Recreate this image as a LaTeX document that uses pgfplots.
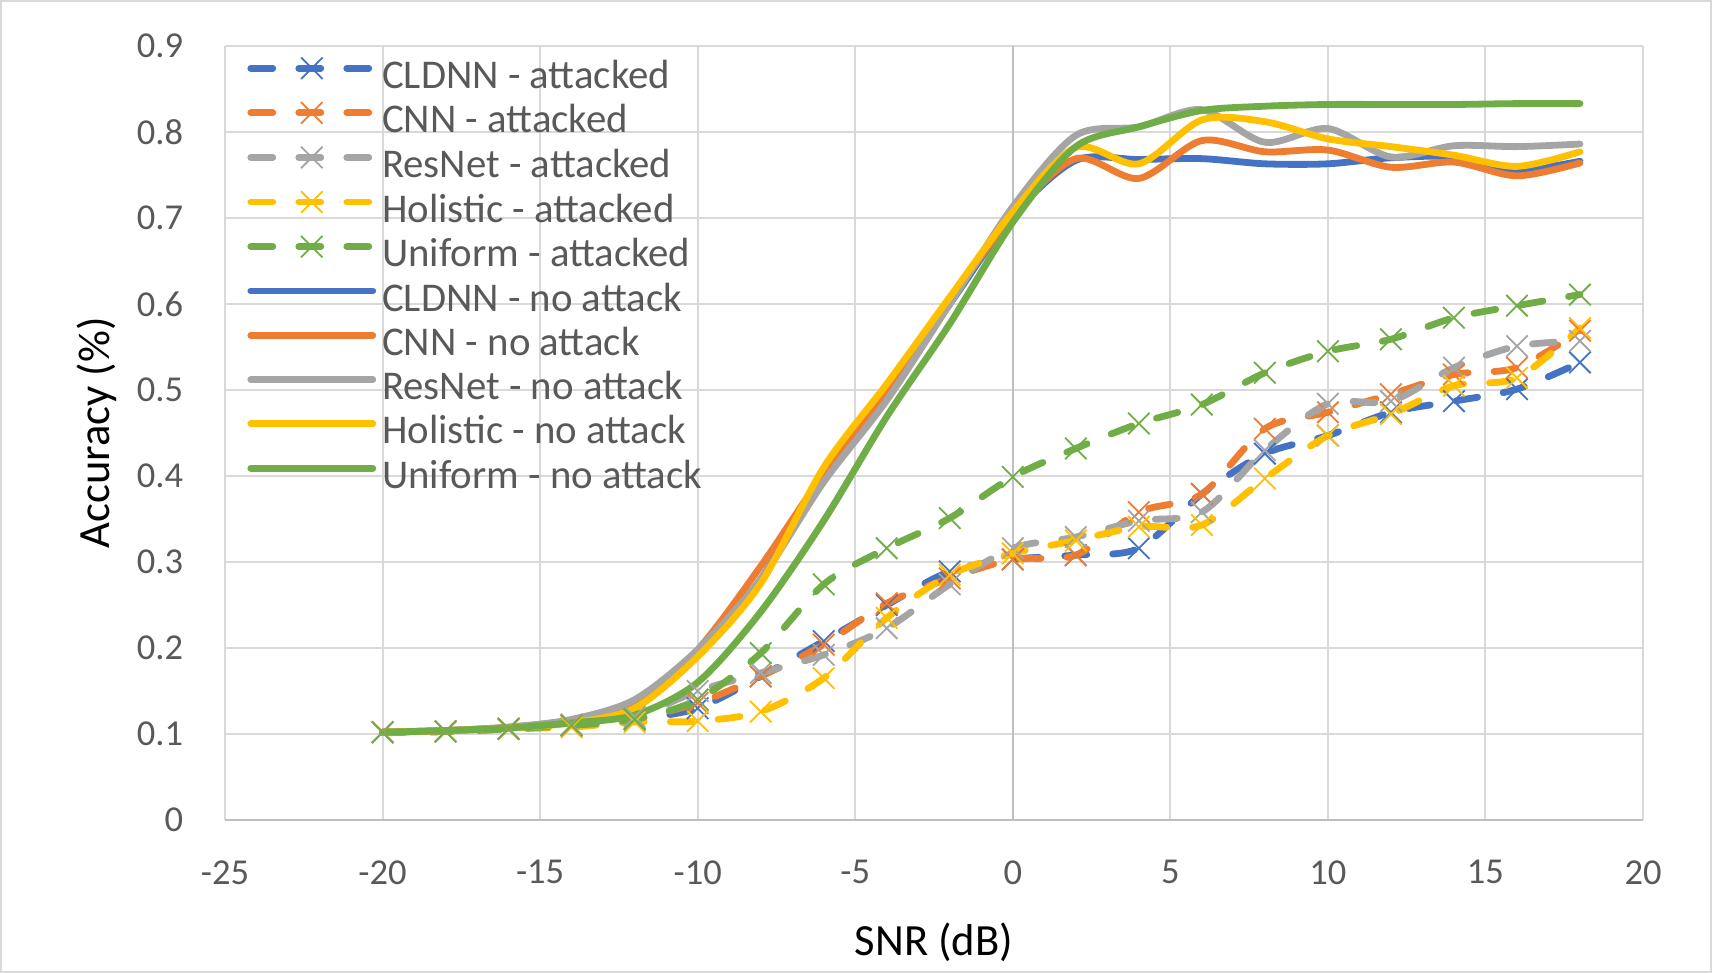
\documentclass[border=0pt]{standalone}
\usepackage{fontspec}
\setmainfont{Carlito}
\usepackage{pgfplots}
\usepackage{pgfplotstable}
\pgfplotsset{compat=1.18}
\definecolor{cblue}{HTML}{4472C4}
\definecolor{corange}{HTML}{ED7D31}
\definecolor{cgrey}{HTML}{A5A5A5}
\definecolor{cgold}{HTML}{FFC000}
\definecolor{cgreen}{HTML}{70AD47}
\definecolor{gridc}{HTML}{D9D9D9}
\definecolor{axc}{HTML}{BFBFBF}
\definecolor{txt}{HTML}{595959}
\newcommand\tickfont{\fontsize{18.25bp}{20bp}\selectfont}
\newcommand\legfont{\fontsize{20.4bp}{22bp}\selectfont}
\newcommand\titlefont{\fontsize{22.3bp}{24bp}\selectfont}

\pgfplotstableread{
x   cA    nA    rA    hA    uA    c     n     r     h     u
-20 0.102 0.102 0.102 0.102 0.102 0.102 0.102 0.102 0.102 0.102
-18 0.103 0.103 0.103 0.103 0.103 0.104 0.104 0.104 0.104 0.104
-16 0.106 0.106 0.106 0.106 0.106 0.107 0.108 0.108 0.107 0.107
-14 0.110 0.110 0.111 0.108 0.110 0.115 0.116 0.117 0.113 0.113
-12 0.117 0.118 0.120 0.114 0.117 0.130 0.135 0.140 0.130 0.122
-10 0.130 0.136 0.150 0.115 0.140 0.195 0.198 0.198 0.190 0.160
-8  0.167 0.167 0.171 0.126 0.194 0.280 0.295 0.280 0.275 0.242
-6  0.208 0.204 0.192 0.165 0.274 0.400 0.403 0.393 0.410 0.348
-4  0.250 0.252 0.223 0.235 0.316 0.498 0.498 0.488 0.507 0.469
-2  0.289 0.281 0.274 0.285 0.351 0.600 0.604 0.600 0.608 0.577
0   0.303 0.303 0.316 0.310 0.399 0.703 0.703 0.713 0.707 0.695
2   0.308 0.308 0.329 0.325 0.432 0.767 0.769 0.796 0.782 0.783
4   0.316 0.358 0.348 0.341 0.461 0.768 0.746 0.806 0.763 0.806
6   0.379 0.379 0.358 0.343 0.483 0.769 0.790 0.826 0.814 0.825
8   0.426 0.455 0.430 0.397 0.520 0.763 0.777 0.788 0.812 0.830
10  0.447 0.474 0.484 0.447 0.545 0.763 0.779 0.804 0.792 0.832
12  0.474 0.495 0.487 0.472 0.559 0.770 0.759 0.771 0.783 0.832
14  0.487 0.518 0.526 0.505 0.584 0.771 0.765 0.784 0.773 0.832
16  0.501 0.526 0.551 0.514 0.598 0.756 0.749 0.783 0.760 0.833
18  0.532 0.569 0.557 0.572 0.611 0.766 0.764 0.786 0.777 0.833
}\data

\pgfplotsset{
  att/.style={#1, line width=3.4bp, line cap=round, dash pattern=on 11bp off 13bp,
    smooth, tension=0.5, mark=x, mark size=7.6bp,
    mark options={solid, line width=0.9bp, line cap=butt}},
  noatt/.style={#1, line width=3.4bp, line cap=round, smooth, tension=0.5, no marks},
}

\begin{document}
\begin{tikzpicture}
\useasboundingbox (-112.5bp,-76.5bp) rectangle (743.5bp,410bp);
\draw[gridc, line width=1bp] (-112bp,-76bp) rectangle (743bp,409.5bp);
\begin{axis}[
  at={(0,0)}, anchor=south west, scale only axis,
  width=709bp, height=387bp,
  xmin=-25, xmax=20, ymin=0, ymax=0.9,
  xtick={-25,-20,-15,-10,-5,0,5,10,15,20},
  ytick={0,0.1,0.2,0.3,0.4,0.5,0.6,0.7,0.8,0.9},
  /pgf/number format/assume math mode=true,
  axis line style={draw=none},
  major tick length=0pt,
  tick style={draw=none},
  grid=major,
  major grid style={gridc, line width=1bp},
  extra x ticks={0}, extra x tick labels={},
  extra x tick style={major grid style={axc, line width=1.2bp}},
  extra y ticks={0}, extra y tick labels={},
  extra y tick style={major grid style={axc, line width=1.4bp}},
  xticklabel style={anchor=north, inner sep=0pt, font=\tickfont, text=txt},
  xticklabel shift=20bp,
  yticklabel style={anchor=east, inner sep=0pt, font=\tickfont, text=txt},
  yticklabel shift=20.7bp,
  legend image code/.code={
    \draw[mark repeat=2, mark phase=2, #1] plot coordinates {(0bp,5.85bp) (30.5bp,5.85bp) (61bp,5.85bp)};
  },
  legend cell align=left,
  legend style={
    draw=none, fill=none,
    at={(0,1)}, anchor=north west, xshift=11bp, yshift=-5.55bp,
    inner sep=0pt, row sep=0pt, column sep=3bp,
    font=\legfont, text=txt,
    nodes={inner sep=0pt, text height=15.3bp, text depth=6.85bp},
  },
]
\addplot[att=cblue]   table[x=x, y=cA] {\data};
\addplot[att=corange] table[x=x, y=nA] {\data};
\addplot[att=cgrey]   table[x=x, y=rA] {\data};
\addplot[att=cgold]   table[x=x, y=hA] {\data};
\addplot[att=cgreen]  table[x=x, y=uA] {\data};
\addplot[noatt=cblue]   table[x=x, y=c] {\data};
\addplot[noatt=corange] table[x=x, y=n] {\data};
\addplot[noatt=cgrey]   table[x=x, y=r] {\data};
\addplot[noatt=cgold]   table[x=x, y=h] {\data};
\addplot[noatt=cgreen]  table[x=x, y=u] {\data};
\legend{CLDNN - attacked, CNN - attacked, ResNet - attacked, Holistic - attacked, Uniform - attacked,
  CLDNN - no attack, CNN - no attack, ResNet - no attack, Holistic - no attack, Uniform - no attack}
\end{axis}
\node[rotate=90, anchor=base, inner sep=0pt, font=\titlefont] at (-57.5bp,193.5bp) {Accuracy (\%)};
\node[anchor=base, inner sep=0pt, font=\titlefont] at (354.5bp,-67.5bp) {SNR (dB)};
\end{tikzpicture}
\end{document}
